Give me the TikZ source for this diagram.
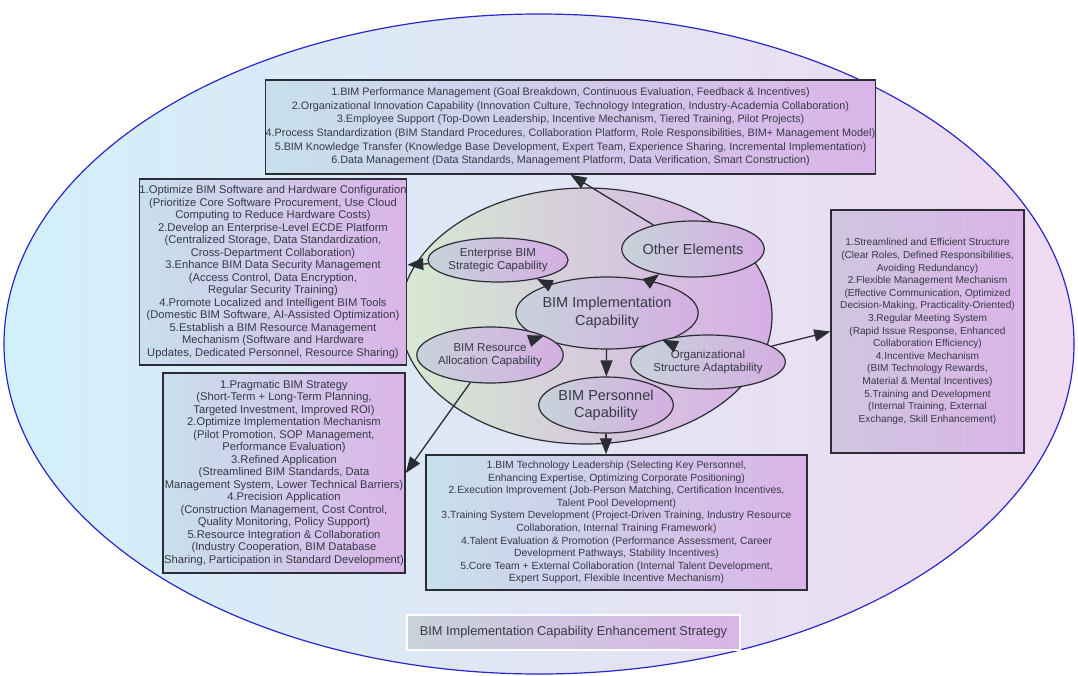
\documentclass[tikz,border=0pt]{standalone}
\usepackage{fontspec}
\setmainfont{Liberation Sans}
\usetikzlibrary{shapes.geometric,arrows.meta}
\definecolor{outerL}{HTML}{D2F0FA}
\definecolor{outerR}{HTML}{F0DAF0}
\definecolor{coreL}{HTML}{D6EAD2}
\definecolor{coreR}{HTML}{D6AEE6}
\definecolor{subL}{HTML}{C8D2DA}
\definecolor{subR}{HTML}{D4AEE2}
\definecolor{boxL}{HTML}{C8E0EC}
\definecolor{boxR}{HTML}{DAB4E8}
\definecolor{txt}{HTML}{383846}
\definecolor{edge}{HTML}{2C2C34}
\definecolor{rim}{HTML}{2828C8}

\begin{document}
\begin{tikzpicture}[x=1pt,y=-1pt,
  box/.style={draw=edge, line width=1.5pt, left color=boxL, right color=boxR, text=txt, align=center, inner sep=0pt},
  sub/.style={ellipse, draw=edge, line width=1.2pt, left color=subL, right color=subR, text=txt, align=center, inner sep=0pt},
  link/.style={draw=edge, line width=1.3pt, -{Triangle[length=16pt,width=12pt]}}]
  \useasboundingbox[fill=white] (0,0) rectangle (1078,675);

  \node[ellipse, draw=rim, line width=1.2pt, left color=outerL, right color=outerR, minimum width=1070pt, minimum height=660pt] (outer) at (539,344) {};
  \node[ellipse, draw=edge, line width=1.2pt, left color=coreL, right color=coreR, minimum width=372pt, minimum height=256pt] (core) at (586,316) {};

  \node[sub, font=\fontsize{14.5}{17.7}\selectfont, minimum width=150pt, minimum height=72pt] (impl) at (607,313) {BIM Implementation\\Capability};
  \node[sub, font=\fontsize{11.5}{13.3}\selectfont, minimum width=110pt, minimum height=44pt] (ent) at (498,260) {Enterprise BIM\\Strategic Capability};
  \node[sub, font=\fontsize{14.5}{17}\selectfont, minimum width=112pt, minimum height=56pt] (oth) at (693,249) {Other Elements};
  \node[sub, font=\fontsize{11.5}{13.3}\selectfont, minimum width=110pt, minimum height=56pt] (res) at (490,355) {BIM Resource\\Allocation Capability};
  \node[sub, font=\fontsize{11.5}{13.3}\selectfont, minimum width=110pt, minimum height=54pt] (org) at (708,362) {Organizational\\Structure Adaptability};
  \node[sub, font=\fontsize{14.5}{16.7}\selectfont, minimum width=112pt, minimum height=56pt] (per) at (606,405) {BIM Personnel\\Capability};

  \node[box, font=\fontsize{10.8}{13.6}\selectfont, minimum width=595pt, minimum height=94pt] (top) at (570.5,127) {1.BIM Performance Management (Goal Breakdown, Continuous Evaluation, Feedback \& Incentives)\\
    2.Organizational Innovation Capability (Innovation Culture, Technology Integration, Industry-Academia Collaboration)\\
    3.Employee Support (Top-Down Leadership, Incentive Mechanism, Tiered Training, Pilot Projects)\\
    4.Process Standardization (BIM Standard Procedures, Collaboration Platform, Role Responsibilities, BIM+ Management Model)\\
    5.BIM Knowledge Transfer (Knowledge Base Development, Expert Team, Experience Sharing, Incremental Implementation)\\
    6.Data Management (Data Standards, Management Platform, Data Verification, Smart Construction)};

  \node[box, font=\fontsize{11.2}{12.5}\selectfont, minimum width=260pt, minimum height=186pt] (hw) at (273,272) {1.Optimize BIM Software and Hardware Configuration\\
    (Prioritize Core Software Procurement, Use Cloud\\
    Computing to Reduce Hardware Costs)\\
    2.Develop an Enterprise-Level ECDE Platform\\
    (Centralized Storage, Data Standardization,\\
    Cross-Department Collaboration)\\
    3.Enhance BIM Data Security Management\\
    (Access Control, Data Encryption,\\
    Regular Security Training)\\
    4.Promote Localized and Intelligent BIM Tools\\
    (Domestic BIM Software, AI-Assisted Optimization)\\
    5.Establish a BIM Resource Management\\
    Mechanism (Software and Hardware\\
    Updates, Dedicated Personnel, Resource Sharing)};

  \node[box, font=\fontsize{11.2}{12.5}\selectfont, minimum width=242pt, minimum height=200pt] (strat) at (284,473) {1.Pragmatic BIM Strategy\\
    (Short-Term + Long-Term Planning,\\
    Targeted Investment, Improved ROI)\\
    2.Optimize Implementation Mechanism\\
    (Pilot Promotion, SOP Management,\\
    Performance Evaluation)\\
    3.Refined Application\\
    (Streamlined BIM Standards, Data\\
    Management System, Lower Technical Barriers)\\
    4.Precision Application\\
    (Construction Management, Cost Control,\\
    Quality Monitoring, Policy Support)\\
    5.Resource Integration \& Collaboration\\
    (Industry Cooperation, BIM Database\\
    Sharing, Participation in Standard Development)};

  \node[box, left color=subL!60!boxR, font=\fontsize{10.1}{12.6}\selectfont, minimum width=193pt, minimum height=243pt] (orgbox) at (927.5,331.5) {1.Streamlined and Efficient Structure\\
    (Clear Roles, Defined Responsibilities,\\
    Avoiding Redundancy)\\
    2.Flexible Management Mechanism\\
    (Effective Communication, Optimized\\
    Decision-Making, Practicality-Oriented)\\
    3.Regular Meeting System\\
    (Rapid Issue Response, Enhanced\\
    Collaboration Efficiency)\\
    4.Incentive Mechanism\\
    (BIM Technology Rewards,\\
    Material \& Mental Incentives)\\
    5.Training and Development\\
    (Internal Training, External\\
    Exchange, Skill Enhancement)};

  \node[box, font=\fontsize{10.4}{12.6}\selectfont, minimum width=381pt, minimum height=135pt] (pbox) at (616.5,522.5) {1.BIM Technology Leadership (Selecting Key Personnel,\\
    Enhancing Expertise, Optimizing Corporate Positioning)\\
    2.Execution Improvement (Job-Person Matching, Certification Incentives,\\
    Talent Pool Development)\\
    3.Training System Development (Project-Driven Training, Industry Resource\\
    Collaboration, Internal Training Framework)\\
    4.Talent Evaluation \& Promotion (Performance Assessment, Career\\
    Development Pathways, Stability Incentives)\\
    5.Core Team + External Collaboration (Internal Talent Development,\\
    Expert Support, Flexible Incentive Mechanism)};

  \node[draw=white, line width=1.5pt, left color=subL, right color=boxR, text=txt, font=\fontsize{12.8}{15}\selectfont, minimum width=333pt, minimum height=35pt, inner sep=0pt] (title) at (573.5,632.5) {BIM Implementation Capability Enhancement Strategy};

  \draw[link] (impl) -- (ent);
  \draw[link] (impl) -- (oth);
  \draw[link] (impl) -- (res);
  \draw[link] (impl) -- (org);
  \draw[link] (impl) -- (per);

  \draw[link] (oth) -- (top.south);
  \draw[link] (ent) -- (hw);
  \draw[link] (res) -- (strat.east);
  \draw[link] (org) -- (orgbox.west);
  \draw[link] (per.south) -- (per.south |- pbox.north);
\end{tikzpicture}
\end{document}
